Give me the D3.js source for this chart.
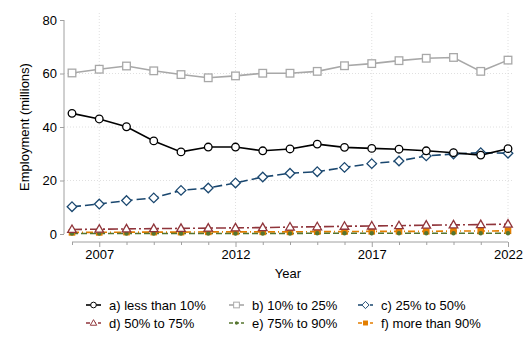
<!DOCTYPE html>
<html><head><meta charset="utf-8">
<script src="https://cdn.jsdelivr.net/npm/d3@7"></script>
<style>body{margin:0;background:#fff}svg{display:block;font-family:"Liberation Sans",Arial,sans-serif}</style>
</head><body><svg id="c" width="528" height="352"></svg>
<script>
const years = d3.range(2006, 2023);
const seriesNames = ["a) less than 10%","b) 10% to 25%","c) 25% to 50%","d) 50% to 75%","e) 75% to 90%","f) more than 90%"];
const lessThan10 = [45.1,43.0,40.1,34.8,30.7,32.5,32.5,31.1,31.8,33.6,32.4,32.0,31.7,31.1,30.4,29.5,31.9];
const from10to25 = [60.2,61.6,62.8,61.0,59.6,58.4,59.1,60.1,60.1,60.8,62.9,63.7,64.8,65.7,66.0,60.8,65.0];
const from25to50 = [10.2,11.2,12.5,13.5,16.3,17.2,19.1,21.3,22.7,23.3,24.9,26.3,27.3,29.2,29.9,30.4,30.2];
const from50to75 = [1.7,1.8,1.9,2.0,2.1,2.2,2.3,2.4,2.6,2.7,2.9,3.0,3.1,3.3,3.4,3.5,3.7];
const from75to90 = [0.2,0.2,0.2,0.2,0.2,0.2,0.2,0.2,0.2,0.3,0.3,0.3,0.3,0.3,0.3,0.3,0.3];
const moreThan90 = [0.6,0.6,0.7,0.7,0.7,0.8,0.8,0.8,0.8,0.9,0.9,1.0,1.0,1.0,1.1,1.1,1.2];
const yTicks = [0,20,40,60,80];
const xTicks = [2007,2012,2017,2022];

const styles = [
  {color:"#000000", dash:null, marker:"circle", fill:"#fff"},
  {color:"#a8a8a8", dash:null, marker:"square", fill:"#fff"},
  {color:"#1a476f", dash:"9,4", marker:"diamond", fill:"#fff"},
  {color:"#90353b", dash:"10,3,2,3", marker:"triangle", fill:"#fff"},
  {color:"#55752f", dash:"6,3", marker:"dot", fill:"#55752f"},
  {color:"#e37e00", dash:"7,3,1,3", marker:"fsquare", fill:"#e37e00"}
];
const data = [lessThan10, from10to25, from25to50, from50to75, from75to90, moreThan90];

const svg = d3.select("#c");
const x = d3.scaleLinear().domain([2006,2022]).range([72,508]);
const y = d3.scaleLinear().domain([0,80]).range([234,20]);

// grid
const g = svg.append("g");
g.selectAll(".hg").data([20,40,60]).join("line")
  .attr("x1",64).attr("x2",513).attr("y1",d=>y(d)).attr("y2",d=>y(d))
  .attr("stroke","#d8d8d8").attr("stroke-width",0.8).attr("stroke-dasharray","1,2");
g.selectAll(".vg").data(xTicks).join("line")
  .attr("x1",d=>x(d)).attr("x2",d=>x(d)).attr("y1",13).attr("y2",241)
  .attr("stroke","#d8d8d8").attr("stroke-width",0.8).attr("stroke-dasharray","1,2");

// y axis
const yAxis = svg.append("g").attr("transform","translate(64,0)")
  .call(d3.axisLeft(y).tickValues(yTicks).tickSize(4).tickPadding(3));
yAxis.select(".domain").attr("stroke","#a0a0a0").attr("d","M0,20V234");
yAxis.selectAll(".tick line").attr("stroke","#a0a0a0");
yAxis.selectAll("text").attr("font-size",13).attr("fill","#000").attr("font-family","Liberation Sans, Arial, sans-serif");

// x axis
const xAxis = svg.append("g").attr("transform","translate(0,242)")
  .call(d3.axisBottom(x).tickValues(years).tickSize(4).tickPadding(4).tickFormat(d=>xTicks.includes(d)?d:""));
xAxis.select(".domain").attr("stroke","#a0a0a0").attr("d","M72,0H508");
xAxis.selectAll(".tick line").attr("stroke","#a0a0a0").attr("y2",d=>xTicks.includes(d)?5:3);
xAxis.selectAll("text").attr("font-size",13).attr("fill","#000").attr("font-family","Liberation Sans, Arial, sans-serif");

svg.append("text").attr("x",288).attr("y",278).attr("text-anchor","middle").attr("font-size",13).text("Year");
svg.append("text").attr("transform","translate(29,127) rotate(-90)").attr("text-anchor","middle").attr("font-size",13).text("Employment (millions)");

function drawMarker(sel, m, c, f){
  const sw = 1.3;
  if(m==="circle") sel.append("circle").attr("r",3.8).attr("fill",f).attr("stroke",c).attr("stroke-width",sw);
  else if(m==="square") sel.append("rect").attr("x",-3.8).attr("y",-3.8).attr("width",7.6).attr("height",7.6).attr("fill",f).attr("stroke",c).attr("stroke-width",sw);
  else if(m==="diamond") sel.append("path").attr("d","M0,-4.8L4.8,0L0,4.8L-4.8,0Z").attr("fill",f).attr("stroke",c).attr("stroke-width",sw);
  else if(m==="triangle") sel.append("path").attr("d","M0,-4.5L4.3,3L-4.3,3Z").attr("fill",f).attr("stroke",c).attr("stroke-width",sw);
  else if(m==="dot") sel.append("circle").attr("r",2.2).attr("fill",f);
  else if(m==="fsquare") sel.append("rect").attr("x",-3.3).attr("y",-3.3).attr("width",6.6).attr("height",6.6).attr("fill",f);
}

const line = d3.line().x((d,i)=>x(years[i])).y(d=>y(d));
// draw in reverse so black/gray on top
const order = [5,4,3,2,1,0];
order.forEach(k=>{
  const s = styles[k];
  svg.append("path").datum(data[k]).attr("d",line).attr("fill","none")
    .attr("stroke",s.color).attr("stroke-width",1.6).attr("stroke-dasharray",s.dash);
});
order.forEach(k=>{
  const s = styles[k];
  data[k].forEach((v,i)=>{
    const mg = svg.append("g").attr("transform",`translate(${x(years[i])},${y(v)})`);
    drawMarker(mg, s.marker, s.color, s.fill);
  });
});

// legend
const colX = [86,229,358];
const rowY = [305,323];
seriesNames.forEach((name,k)=>{
  const s = styles[k];
  const lx = colX[k%3], ly = rowY[Math.floor(k/3)];
  const lg = svg.append("g").attr("transform",`translate(${lx},${ly})`);
  lg.append("line").attr("x1",0).attr("x2",15).attr("y1",0).attr("y2",0)
    .attr("stroke",s.color).attr("stroke-width",1.6).attr("stroke-dasharray",s.dash?"4,2":null);
  const mg = lg.append("g").attr("transform","translate(7.5,0) scale(0.75)");
  drawMarker(mg, s.marker, s.color, s.fill);
  lg.append("text").attr("x",23).attr("y",4.5).attr("font-size",13).text(name);
});
</script></body></html>
